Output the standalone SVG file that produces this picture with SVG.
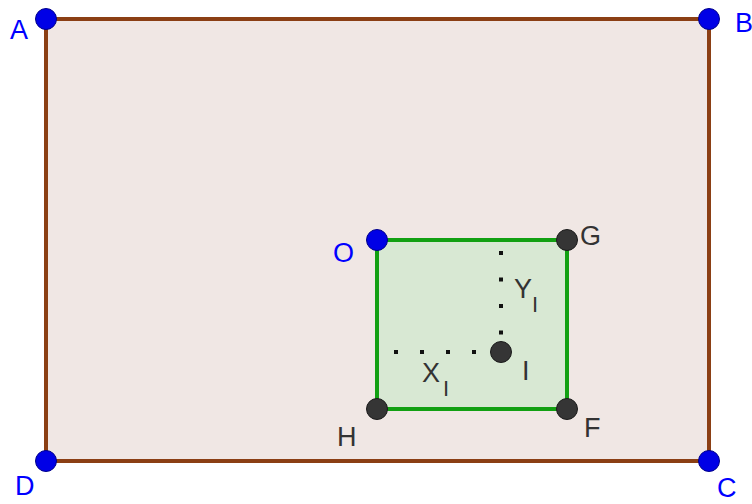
<svg xmlns="http://www.w3.org/2000/svg" width="752" height="504" viewBox="0 0 752 504">
<defs>
<style>
.lbl{font-family:"Liberation Sans","Arial",sans-serif;font-size:27px}
.sub{font-size:22px}
.blue{fill:#0000ff}
.dark{fill:#333333}
.ptB{fill:#0000e6;stroke:#00008a;stroke-width:1}
.ptK{fill:#353535;stroke:#1a1a1a;stroke-width:1}
.edgeR{stroke:#8b3f14;stroke-width:4;fill:none;stroke-linecap:round}
.edgeG{stroke:#12a012;stroke-width:4;fill:none;stroke-linecap:round}
.dots{stroke:#111111;stroke-width:4;fill:none}
</style>
</defs>
<rect x="0" y="0" width="752" height="504" fill="#ffffff"/>
<rect id="rectABCD" x="46" y="19" width="663" height="442" fill="#f0e7e4"/>
<rect id="squareOGFH" x="377" y="240" width="190" height="169" fill="#d8e8d3"/>
<g id="connectors">
<line class="edgeR" x1="46" y1="19" x2="709" y2="19"/>
<line class="edgeR" x1="709" y1="19" x2="709" y2="461"/>
<line class="edgeR" x1="709" y1="461" x2="46" y2="461"/>
<line class="edgeR" x1="46" y1="461" x2="46" y2="19"/>
<line class="edgeG" x1="377" y1="240" x2="567" y2="240"/>
<line class="edgeG" x1="567" y1="240" x2="567" y2="409"/>
<line class="edgeG" x1="567" y1="409" x2="377" y2="409"/>
<line class="edgeG" x1="377" y1="409" x2="377" y2="240"/>
<line class="dots" x1="501" y1="251" x2="501" y2="336" stroke-dasharray="4 22.5"/>
<line class="dots" x1="394" y1="352" x2="480" y2="352" stroke-dasharray="4 22"/>
</g>
<g id="label-Y">
<text class="lbl dark" x="514" y="298">Y</text>
<text class="lbl dark sub" x="532" y="312">I</text>
</g>
<g id="label-X">
<text class="lbl dark" x="422" y="382">X</text>
<text class="lbl dark sub" x="443" y="396">I</text>
</g>
<g id="A"><circle class="ptB" cx="46" cy="19" r="10.5"/><text class="lbl blue" x="10" y="39">A</text></g>
<g id="B"><circle class="ptB" cx="709" cy="19" r="10.5"/><text class="lbl blue" x="735" y="32">B</text></g>
<g id="C"><circle class="ptB" cx="709" cy="461" r="10.5"/><text class="lbl blue" x="717" y="497">C</text></g>
<g id="D"><circle class="ptB" cx="46" cy="461" r="10.5"/><text class="lbl blue" x="15" y="495">D</text></g>
<g id="O"><circle class="ptB" cx="377" cy="240" r="10.5"/><text class="lbl blue" x="333" y="262">O</text></g>
<g id="G"><circle class="ptK" cx="567" cy="240" r="10.5"/><text class="lbl dark" x="580" y="245">G</text></g>
<g id="F"><circle class="ptK" cx="567" cy="409" r="10.5"/><text class="lbl dark" x="584" y="437">F</text></g>
<g id="H"><circle class="ptK" cx="377" cy="409" r="10.5"/><text class="lbl dark" x="337" y="446">H</text></g>
<g id="I"><circle class="ptK" cx="501" cy="352" r="10.5"/><text class="lbl dark" x="522" y="380">I</text></g>
</svg>
